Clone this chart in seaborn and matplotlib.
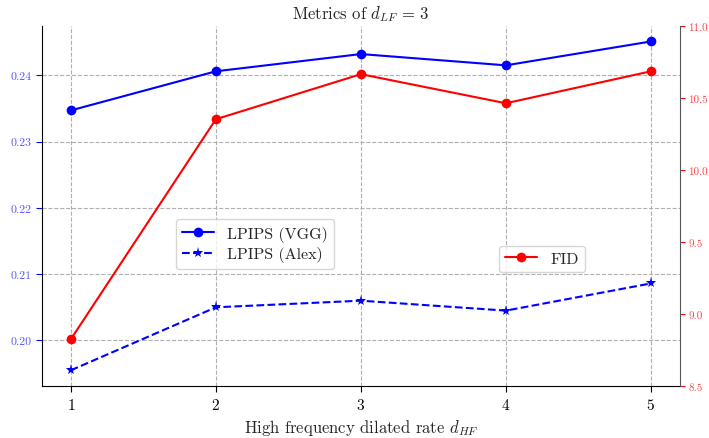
import matplotlib
matplotlib.use("Agg")
import matplotlib.pyplot as plt
import seaborn as sns
import pandas as pd

sns.set_style("white")
plt.rcParams['font.family'] = ['cmr10', 'DejaVu Serif']
plt.rcParams['mathtext.fontset'] = 'cm'
plt.rcParams['axes.formatter.use_mathtext'] = True

rates = [1, 2, 3, 4, 5]
lpips_vgg = [0.2347, 0.2406, 0.2432, 0.2415, 0.2451]
lpips_alex = [0.1955, 0.2050, 0.2060, 0.2045, 0.2086]
fid = [8.826, 10.354, 10.667, 10.465, 10.687]

df = pd.DataFrame({"rate": rates, "vgg": lpips_vgg, "alex": lpips_alex, "fid": fid})

fig = plt.figure(figsize=(7.09, 4.39), dpi=100)
ax = fig.add_axes([0.059, 0.118, 0.9, 0.82])
ax2 = ax.twinx()

sns.lineplot(data=df, x="rate", y="vgg", ax=ax, color="blue", marker="o",
             markersize=7, markeredgewidth=0, linewidth=1.5, label="LPIPS (VGG)", legend=False)
sns.lineplot(data=df, x="rate", y="alex", ax=ax, color="blue", marker="*",
             markersize=8, markeredgewidth=0, linewidth=1.5, linestyle="--", label="LPIPS (Alex)", legend=False)
sns.lineplot(data=df, x="rate", y="fid", ax=ax2, color="red", marker="o",
             markersize=7, markeredgewidth=0, linewidth=1.5, label="FID", legend=False)

ax.set_xlim(0.8, 5.2)
ax.set_ylim(0.1931, 0.2474)
ax2.set_ylim(8.5, 11.0)
ax.set_xticks(rates)
ax.set_yticks([0.20, 0.21, 0.22, 0.23, 0.24])
ax.set_yticklabels(["0.20", "0.21", "0.22", "0.23", "0.24"])
ax2.set_yticks([8.5, 9.0, 9.5, 10.0, 10.5, 11.0])
ax2.set_yticklabels(["8.5", "9.0", "9.5", "10.0", "10.5", "11.0"])

ax.grid(True, linestyle="--", color="#b0b0b0", linewidth=0.8)
ax.set_axisbelow(True)

ax.tick_params(axis="y", colors="blue", labelcolor="#5555ff", labelsize=8.5, length=4, direction="out", left=True)
ax.tick_params(axis="x", labelsize=11, length=4, direction="out", bottom=True, colors="black")
ax2.tick_params(axis="y", colors="red", labelcolor="#ff4444", labelsize=8, length=3.5, pad=2.5,
                direction="out", right=True)

for s in ["top", "right"]:
    ax.spines[s].set_visible(False)
for s in ["top", "left", "bottom"]:
    ax2.spines[s].set_visible(False)
ax.spines["left"].set_color("black")
ax.spines["bottom"].set_color("black")
ax2.spines["right"].set_color("#555555")

ax.set_xlabel(r"High frequency dilated rate $d_{HF}$", fontsize=12)
ax.set_ylabel("")
ax2.set_ylabel("")
ax.set_title(r"Metrics of $d_{LF}\,=\,3$", fontsize=12)

ax.legend(loc="upper left", bbox_to_anchor=(0.197, 0.486), fontsize=11.5, frameon=True,
          handlelength=2, borderpad=0.4, labelspacing=0.3)
ax2.legend(loc="upper left", bbox_to_anchor=(0.704, 0.413), fontsize=11.5, frameon=True,
           handlelength=2, borderpad=0.4)

fig.savefig("out.png", dpi=100)
